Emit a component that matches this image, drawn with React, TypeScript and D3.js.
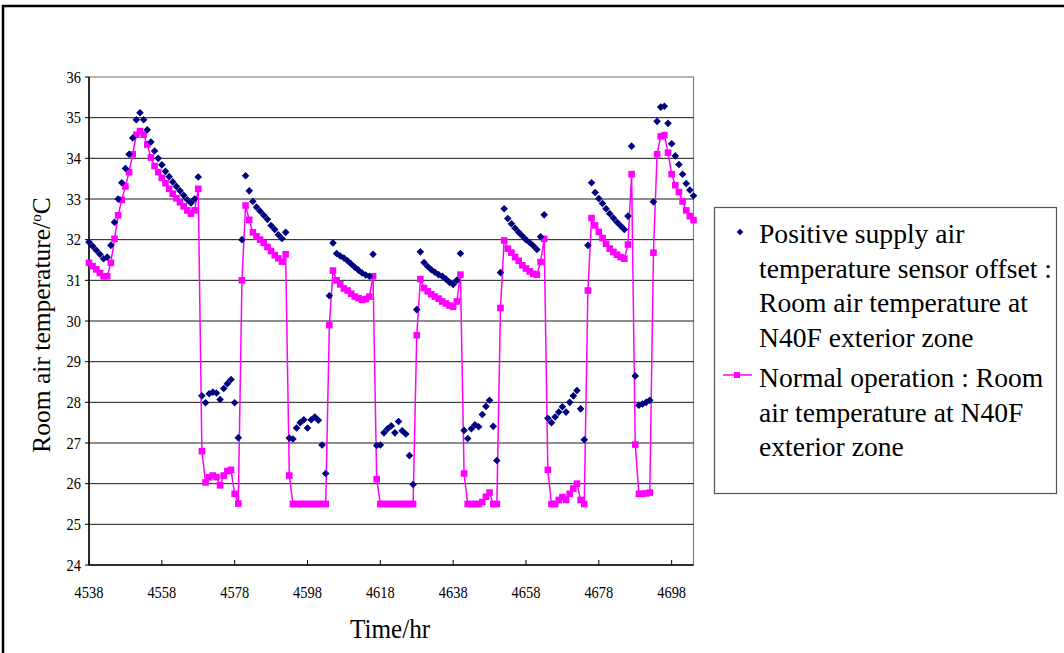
import React from "react";
import * as d3 from "d3";

const START_HOUR = 4538;
const END_HOUR = 4704;
const X_TICKS = [4538, 4558, 4578, 4598, 4618, 4638, 4658, 4678, 4698];
const Y_TICKS = [24, 25, 26, 27, 28, 29, 30, 31, 32, 33, 34, 35, 36];

// Positive supply air temperature sensor offset (hourly, from 4538)
const offsetSeries = [
  31.94, 31.84, 31.74, 31.64, 31.53, 31.57, 31.86, 32.43, 33.0, 33.4, 33.75, 34.1, 34.5, 34.95, 35.12, 34.95,
  34.7, 34.4, 34.18, 34.0, 33.84, 33.68, 33.55, 33.42, 33.31, 33.2, 33.09, 32.98, 32.9, 33.0, 33.54,
  28.16, 27.99, 28.21, 28.25, 28.23, 28.07, 28.34, 28.46, 28.56, 27.99, 27.13,
  32.0, 33.57, 33.2, 32.94, 32.8, 32.7, 32.6, 32.5, 32.35, 32.25, 32.12, 32.03, 32.18,
  27.12, 27.1, 27.37, 27.5, 27.57, 27.37, 27.57, 27.64, 27.56, 26.95, 26.25,
  30.62, 31.92, 31.66, 31.6, 31.55, 31.48, 31.4, 31.32, 31.25, 31.18, 31.13, 31.1, 31.64,
  26.94, 26.95, 27.25, 27.35, 27.42, 27.25, 27.53, 27.3, 27.22, 26.69, 25.98,
  30.28, 31.7, 31.44, 31.34, 31.26, 31.2, 31.14, 31.1, 31.03, 30.95, 30.9, 31.0, 31.66,
  27.31, 27.11, 27.35, 27.45, 27.4, 27.7, 27.9, 28.05, 27.41, 26.57,
  31.19, 32.76, 32.52, 32.39, 32.28, 32.18, 32.09, 32.0, 31.93, 31.85, 31.76, 32.07, 32.61,
  27.61, 27.5, 27.64, 27.76, 27.89, 27.76, 28.0, 28.16, 28.29, 27.84, 27.08,
  31.86, 33.4, 33.16, 33.01, 32.89, 32.76, 32.64, 32.53, 32.43, 32.34, 32.25, 32.58, 34.3,
  28.65, 27.93, 27.96, 28.0, 28.05,
  32.93, 34.91, 35.26, 35.28, 34.86, 34.36, 34.06, 33.85, 33.61, 33.38, 33.22, 33.08,
];

// Normal operation (hourly, from 4538)
const normalSeries = [
  31.43, 31.35, 31.27, 31.18, 31.1, 31.1, 31.43, 32.02, 32.6, 32.98, 33.31, 33.66, 34.1, 34.58, 34.67, 34.58,
  34.34, 34.02, 33.81, 33.66, 33.52, 33.39, 33.25, 33.13, 33.02, 32.92, 32.82, 32.72, 32.64, 32.72, 33.25,
  26.8, 26.03, 26.16, 26.2, 26.16, 25.96, 26.2, 26.31, 26.34, 25.75, 25.51,
  31.0, 32.84, 32.49, 32.18, 32.08, 32.0, 31.92, 31.82, 31.72, 31.62, 31.54, 31.46, 31.64,
  26.2, 25.5, 25.5, 25.5, 25.5, 25.5, 25.5, 25.5, 25.5, 25.5, 25.5,
  29.9, 31.24, 31.0, 30.9, 30.8, 30.75, 30.67, 30.6, 30.56, 30.52, 30.54, 30.6, 31.1,
  26.11, 25.5, 25.5, 25.5, 25.5, 25.5, 25.5, 25.5, 25.5, 25.5, 25.5,
  29.65, 31.03, 30.81, 30.73, 30.66, 30.6, 30.55, 30.48, 30.43, 30.38, 30.35, 30.48, 31.14,
  26.25, 25.5, 25.5, 25.5, 25.5, 25.55, 25.68, 25.78, 25.5, 25.5,
  30.32, 31.98, 31.78, 31.68, 31.57, 31.48, 31.37, 31.29, 31.22, 31.16, 31.14, 31.45, 32.02,
  26.34, 25.5, 25.5, 25.6, 25.67, 25.6, 25.75, 25.88, 26.0, 25.6, 25.5,
  30.75, 32.53, 32.35, 32.19, 32.04, 31.9, 31.78, 31.7, 31.63, 31.57, 31.53, 31.88, 33.61,
  26.96, 25.75, 25.75, 25.76, 25.78,
  31.68, 34.1, 34.54, 34.57, 34.14, 33.61, 33.34, 33.17, 32.94, 32.72, 32.58, 32.48,
];

const LEGEND_OFFSET = ["Positive supply air", "temperature sensor offset :", "Room air temperature at", "N40F exterior zone"];
const LEGEND_NORMAL = ["Normal operation : Room", "air temperature at N40F", "exterior zone"];

const NAVY = "#000080";
const PINK = "#FF00FF";
const FONT = "'Liberation Serif', 'Times New Roman', serif";

export default function App() {
  const W = 1064;
  const H = 653;
  const x = d3.scaleLinear().domain([START_HOUR, END_HOUR]).range([89, 693.5]);
  const y = d3.scaleLinear().domain([24, 36]).range([565, 77]);

  const normalPts = normalSeries.map((v, i) => [START_HOUR + i, v] as [number, number]);
  const offsetPts = offsetSeries.map((v, i) => [START_HOUR + i, v] as [number, number]);
  const line = d3
    .line<[number, number]>()
    .x((d) => x(d[0]))
    .y((d) => y(d[1]));

  const diamond = (cx: number, cy: number, r: number) =>
    `M${cx},${cy - r}L${cx + r},${cy}L${cx},${cy + r}L${cx - r},${cy}Z`;

  const [x0, x1] = x.range();
  const [yb, yt] = y.range();
  const SX = 0.85;

  return (
    <svg
      width={W}
      height={H}
      style={{ position: "fixed", left: 0, top: 0, background: "#fff" }}
      fontFamily={FONT}
    >
      <rect x={0} y={0} width={W} height={H} fill="#fff" />
      {/* outer frame */}
      <rect x={3} y={6} width={1100} height={700} fill="none" stroke="#000" strokeWidth={2.5} />

      {/* plot border */}
      <rect x={x0} y={yt} width={x1 - x0} height={yb - yt} fill="none" stroke="#808080" strokeWidth={1.2} />

      {/* gridlines */}
      {Y_TICKS.filter((t) => t > 24 && t < 36).map((t) => (
        <line key={"g" + t} x1={x0} x2={x1} y1={y(t)} y2={y(t)} stroke="#1a1a1a" strokeWidth={1} />
      ))}

      {/* axes */}
      <line x1={x0} x2={x0} y1={yt} y2={yb} stroke="#000" strokeWidth={1.5} />
      <line x1={x0} x2={x1} y1={yb} y2={yb} stroke="#000" strokeWidth={1.5} />
      {Y_TICKS.map((t) => (
        <g key={"yt" + t}>
          <line x1={x0 - 4} x2={x0} y1={y(t)} y2={y(t)} stroke="#000" strokeWidth={1} />
          <text
            transform={`translate(81,${y(t) + 5.5}) scale(${SX},1)`}
            fontSize={17}
            textAnchor="end"
            fill="#000"
          >
            {t}
          </text>
        </g>
      ))}
      {X_TICKS.map((t) => (
        <g key={"xt" + t}>
          <line x1={x(t)} x2={x(t)} y1={yb} y2={yb - 5} stroke="#000" strokeWidth={1} />
          <text
            transform={`translate(${x(t)},598) scale(${SX},1)`}
            fontSize={17}
            textAnchor="middle"
            fill="#000"
          >
            {t}
          </text>
        </g>
      ))}

      {/* axis titles */}
      <text transform={`translate(390,638) scale(0.9,1)`} fontSize={28} textAnchor="middle" fill="#000">
        Time/hr
      </text>
      <text transform={`translate(50,${(yt + yb) / 2 + 4}) rotate(-90)`} fontSize={25.5} textAnchor="middle" fill="#000">
        Room air temperature/
        <tspan dy={-9} fontSize={15}>o</tspan>
        <tspan dy={9}>C</tspan>
      </text>

      {/* normal operation series */}
      <path d={line(normalPts) || ""} fill="none" stroke={PINK} strokeWidth={1.5} />
      {normalPts.map((d, i) => (
        <rect key={"n" + i} x={x(d[0]) - 3.3} y={y(d[1]) - 3.3} width={6.6} height={6.6} fill={PINK} />
      ))}

      {/* offset series */}
      {offsetPts.map((d, i) => (
        <path key={"o" + i} d={diamond(x(d[0]), y(d[1]), 3.8)} fill={NAVY} />
      ))}

      {/* legend */}
      <rect x={714.5} y={207.5} width={342} height={286} fill="#fff" stroke="#555" strokeWidth={1.2} />
      <path d={diamond(740, 232, 3.3)} fill={NAVY} />
      {LEGEND_OFFSET.map((s, i) => (
        <text key={"lo" + i} x={759} y={243 + i * 34.5} fontSize={27.6} fill="#000">
          {s}
        </text>
      ))}
      <line x1={723} x2={752} y1={375} y2={375} stroke={PINK} strokeWidth={1.5} />
      <rect x={734} y={372} width={6} height={6} fill={PINK} />
      {LEGEND_NORMAL.map((s, i) => (
        <text key={"ln" + i} x={759} y={387 + i * 34.5} fontSize={27.6} fill="#000">
          {s}
        </text>
      ))}
    </svg>
  );
}
